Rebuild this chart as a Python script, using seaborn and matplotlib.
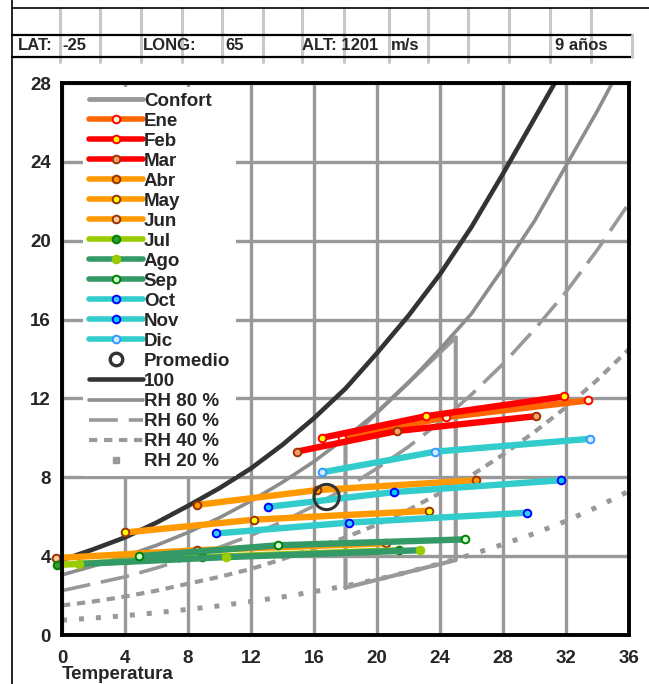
import matplotlib
matplotlib.use("Agg")
import matplotlib.pyplot as plt
from matplotlib.lines import Line2D
import pandas as pd
import seaborn as sns

# curvas de humedad relativa (g/kg)
temp_curve = [0, 2, 4, 6, 8, 10, 12, 14, 16, 18, 20, 22, 24, 26, 28, 30, 32, 34, 36]
temp_sat = [0, 2, 4, 6, 8, 10, 12, 14, 16, 18, 20, 22, 24, 26, 28, 30, 31.5]
rh_100 = [3.8, 4.35, 4.95, 5.7, 6.55, 7.45, 8.45, 9.65, 11.0, 12.5, 14.3, 16.2, 18.3, 20.7, 23.4, 26.2, 28.3]
rh_80 = [3.05, 3.5, 4.0, 4.55, 5.2, 5.95, 6.8, 7.75, 8.8, 10.0, 11.3, 12.8, 14.5, 16.3, 18.6, 21.0, 23.8, 26.6, 29.6]
rh_60 = [2.25, 2.6, 2.95, 3.4, 3.9, 4.45, 5.05, 5.75, 6.55, 7.45, 8.45, 9.55, 10.8, 12.2, 13.75, 15.5, 17.4, 19.55, 21.9]
rh_40 = [1.5, 1.7, 1.95, 2.25, 2.6, 2.95, 3.35, 3.85, 4.4, 4.95, 5.6, 6.35, 7.2, 8.1, 9.15, 10.3, 11.55, 12.95, 14.5]
rh_20 = [0.75, 0.86, 0.98, 1.13, 1.3, 1.48, 1.7, 1.93, 2.2, 2.49, 2.82, 3.2, 3.62, 4.08, 4.6, 5.15, 5.78, 6.5, 7.3]

# zona de confort
comfort_t = [18, 18, 25, 25, 18]
comfort_w = [2.4, 9.75, 15.1, 3.8, 2.4]

# meses: (temp minima, media, maxima) y humedad absoluta en cada una
months = ["Ene", "Feb", "Mar", "Abr", "May", "Jun", "Jul", "Ago", "Sep", "Oct", "Nov", "Dic"]
t_low = [17.8, 16.5, 14.9, 8.6, 4.0, -0.4, -0.3, 1.1, 4.9, 9.8, 13.1, 16.5]
t_mid = [24.4, 23.1, 21.3, 16.2, 12.2, 8.6, 8.9, 10.4, 13.7, 18.2, 21.1, 23.7]
t_high = [33.4, 31.9, 30.1, 26.3, 23.3, 20.6, 21.4, 22.7, 25.6, 29.5, 31.7, 33.5]
w_low = [10.0, 10.0, 9.3, 6.6, 5.2, 3.9, 3.55, 3.6, 4.0, 5.15, 6.5, 8.25]
w_mid = [11.05, 11.1, 10.35, 7.35, 5.85, 4.3, 3.95, 3.95, 4.55, 5.7, 7.25, 9.3]
w_high = [11.9, 12.1, 11.1, 7.85, 6.3, 4.65, 4.3, 4.3, 4.85, 6.2, 7.85, 9.95]

prom_t = [16.8]
prom_w = [7.0]

line_colors = ["#FF6600", "#FF0000", "#FF0000", "#FF9900", "#FF9900", "#FF9900",
               "#99CC00", "#339966", "#339966", "#33CCCC", "#33CCCC", "#33CCCC"]
edge_colors = ["#FF0000", "#FF0000", "#993300", "#993300", "#993300", "#993300",
               "#008000", "#99CC00", "#008000", "#0000FF", "#0000FF", "#3399FF"]
face_colors = ["#FFFFCC", "#FFFF00", "#FF9966", "#FF9900", "#FFFF00", "#FFCC99",
               "#339933", "#99CC00", "#CCFFCC", "#33CCFF", "#00CCFF", "#CCECFF"]

rows = []
for i, m in enumerate(months):
    for t, w in zip([t_low[i], t_mid[i], t_high[i]], [w_low[i], w_mid[i], w_high[i]]):
        rows.append({"mes": m, "T": t, "W": w})
df = pd.DataFrame(rows)

sns.set_theme(style="white")
plt.rcParams["font.family"] = ["Liberation Sans", "DejaVu Sans"]
plt.rcParams["font.weight"] = "bold"

fig = plt.figure(figsize=(6.49, 6.84), dpi=100)
ax = fig.add_axes([62 / 649, 1 - 635 / 684, 567 / 649, 552 / 684])

grid_c = "#999999"
ax.set_xticks(range(0, 37, 4))
ax.set_yticks(range(0, 29, 4))
ax.grid(True, color=grid_c, lw=2.4)
ax.set_axisbelow(True)

sns.lineplot(x=comfort_t, y=comfort_w, sort=False, estimator=None, color=grid_c, lw=3, ax=ax)
sns.lineplot(x=temp_curve, y=rh_20, estimator=None, color=grid_c, lw=3.6, ax=ax).lines[-1].set_dashes([1, 2.4])
sns.lineplot(x=temp_curve, y=rh_40, estimator=None, color=grid_c, lw=3, ax=ax).lines[-1].set_dashes([2, 1.6])
sns.lineplot(x=temp_curve, y=rh_60, estimator=None, color=grid_c, lw=2.6, ax=ax).lines[-1].set_dashes([8, 3])
sns.lineplot(x=temp_curve, y=rh_80, estimator=None, color="#8C8C8C", lw=2.6, ax=ax)
sns.lineplot(x=temp_sat, y=rh_100, estimator=None, color="#333333", lw=3.3, ax=ax)

for i, m in enumerate(months):
    sub = df[df["mes"] == m]
    sns.lineplot(data=sub, x="T", y="W", sort=False, estimator=None, color=line_colors[i],
                 lw=4.6, marker="o", markersize=5.5, markeredgewidth=1.4,
                 markeredgecolor=edge_colors[i], markerfacecolor=face_colors[i], ax=ax)
    if t_low[i] < 0:
        ax.lines[-1].set_clip_on(False)

sns.scatterplot(x=prom_t, y=prom_w, s=330, facecolor="none", edgecolor="#333333",
                linewidth=2.2, ax=ax, zorder=4)

ax.set_xlim(0, 36)
ax.set_ylim(0, 28)
for s in ax.spines.values():
    s.set_color("black")
    s.set_linewidth(2.8)
ax.tick_params(length=0, labelsize=13.5, pad=8)
ax.tick_params(axis="x", pad=11)
for lab in ax.get_xticklabels() + ax.get_yticklabels():
    lab.set_fontweight("bold")
ax.set_xlabel("")
ax.set_ylabel("")
ax.text(0, -0.056, "Temperatura", transform=ax.transAxes, fontsize=13.5,
        fontweight="bold", ha="left", va="top")

# leyenda
handles = [Line2D([], [], color=grid_c, lw=3.5)]
for i in range(12):
    handles.append(Line2D([], [], color=line_colors[i], lw=4, marker="o", markersize=5.5,
                          markeredgewidth=1.4, markeredgecolor=edge_colors[i],
                          markerfacecolor=face_colors[i]))
handles.append(Line2D([], [], ls="none", marker="o", markersize=9, markerfacecolor="none",
                      markeredgecolor="#333333", markeredgewidth=2.4))
handles.append(Line2D([], [], color="#333333", lw=3.3))
handles.append(Line2D([], [], color="#8C8C8C", lw=2.6))
handles.append(Line2D([], [], color=grid_c, lw=2.6, dashes=[8, 3]))
handles.append(Line2D([], [], color=grid_c, lw=3, dashes=[2, 1.6]))
handles.append(Line2D([], [], ls="none", marker="s", markersize=4, color=grid_c))
labels = ["Confort"] + months + ["Promedio", "100", "RH 80 %", "RH 60 %", "RH 40 %", "RH 20 %"]
leg = ax.legend(handles, labels, loc="upper left", bbox_to_anchor=(21 / 567, 0.993),
                borderaxespad=0, frameon=True, fancybox=False, facecolor="white",
                edgecolor="none", framealpha=1, fontsize=13.5, handlelength=2.9,
                handletextpad=0.05, labelspacing=0.155, borderpad=0.3)
for t in leg.get_texts():
    t.set_fontweight("bold")

# cabecera tipo planilla
hd = fig.add_axes([0, 0, 1, 1], facecolor="none")
hd.set_xlim(0, 649)
hd.set_ylim(684, 0)
hd.axis("off")
cells = [60, 100, 141, 182, 222, 263, 302, 344, 389, 428, 468, 509, 550, 591]
for cx in cells:
    hd.plot([cx, cx], [8, 62], color="#C8C8C8", lw=2.2, zorder=1)
hd.plot([12, 12], [0, 684], color="black", lw=1.2)
hd.plot([12, 649], [8, 8], color="black", lw=1.2)
hd.plot([12, 632], [35, 35], color="black", lw=1.6)
hd.plot([12, 632], [57, 57], color="black", lw=1.6)
hd.plot([632, 632], [35, 57], color="#C8C8C8", lw=2.2)
hd.text(18, 46, "LAT:", fontsize=12, fontweight="bold", va="center")
hd.text(62, 46, "-25", fontsize=12, fontweight="bold", va="center")
hd.text(143, 46, "LONG:", fontsize=12, fontweight="bold", va="center")
hd.text(225, 46, "65", fontsize=12, fontweight="bold", va="center")
hd.text(302, 46, "ALT: 1201", fontsize=12, fontweight="bold", va="center")
hd.text(391, 46, "m/s", fontsize=12, fontweight="bold", va="center")
hd.text(555, 46, "9 años", fontsize=12, fontweight="bold", va="center")

fig.savefig("out.png", dpi=100)
